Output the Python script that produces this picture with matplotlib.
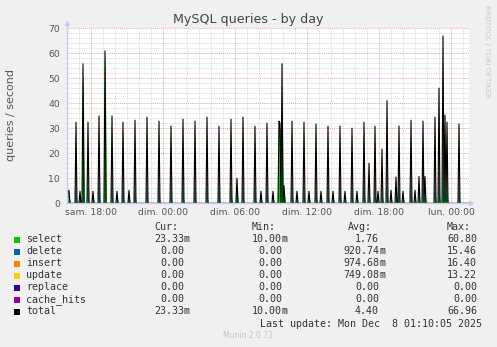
import numpy as np
import matplotlib
matplotlib.use("Agg")
import matplotlib.pyplot as plt
from matplotlib.patches import Rectangle

# ---------------- data ----------------
# time axis: hours relative to "sam. 18:00", 5-minute samples
t_start, t_end = -2.0, 31.5
xtick_hours = [0, 6, 12, 18, 24, 30]
xtick_labels = ["sam. 18:00", "dim. 00:00", "dim. 06:00", "dim. 12:00", "dim. 18:00", "lun. 00:00"]
ytick_values = [0, 10, 20, 30, 40, 50, 60, 70]

# spikes (hour offset) and stacked component values
spike_hours = [-1.92, -1.83, -1.25, -0.92, -0.67, -0.25, 0.17, 0.67, 1.17, 1.75,
               2.17, 2.67, 3.17, 3.67, 4.67, 5.67, 6.67, 7.67, 8.67, 9.67,
               10.67, 11.67, 12.17, 12.67, 13.67, 14.17, 14.67, 15.17, 15.67, 15.75,
               15.92, 16.08, 16.75, 17.17, 17.75, 18.17, 18.75, 19.17, 19.75, 20.17,
               20.75, 21.17, 21.75, 22.17, 22.75, 23.17, 23.67, 23.92, 24.25, 24.67,
               25.0, 25.42, 25.67, 26.0, 26.67, 27.0, 27.33, 27.67, 27.83, 28.67,
               29.0, 29.33, 29.5, 29.67, 30.67]
select_vals = [2.0, 2.2, 2.5, 2.0, 48.0, 2.5, 2.0, 2.5, 57.5, 2.5,
               2.0, 2.5, 2.2, 2.5, 2.5, 2.5, 2.5, 2.5, 2.5, 2.5,
               2.5, 2.5, 5.0, 2.5, 2.5, 2.0, 2.5, 2.0, 30.0, 30.0,
               33.0, 5.0, 2.5, 2.0, 2.5, 2.0, 2.5, 2.0, 2.5, 2.0,
               2.5, 2.0, 2.5, 2.0, 2.5, 3.0, 2.5, 2.0, 3.0, 3.0,
               2.2, 3.0, 2.5, 2.0, 2.5, 2.2, 3.0, 2.5, 3.0, 3.5,
               4.0, 21.8, 3.5, 3.0, 2.5]
delete_vals = [1.0, 1.0, 9.8, 1.0, 2.6, 9.8, 1.0, 10.6, 1.2, 10.6,
               1.0, 9.8, 1.0, 10.0, 10.5, 9.9, 9.3, 10.2, 9.9, 10.5,
               9.3, 10.2, 1.8, 10.5, 9.3, 1.0, 9.7, 1.0, 1.0, 0.7,
               7.6, 0.7, 9.9, 1.0, 9.8, 1.0, 9.6, 1.0, 9.3, 1.0,
               9.3, 1.0, 9.0, 1.0, 9.8, 4.3, 9.3, 1.0, 6.1, 12.5,
               1.0, 2.5, 9.3, 1.0, 10.0, 1.0, 2.5, 9.9, 2.5, 10.2,
               14.0, 15.4, 10.5, 9.7, 9.6]
insert_vals = [1.0, 1.2, 11.0, 1.0, 2.8, 11.0, 1.0, 12.0, 1.3, 12.0,
               1.0, 11.0, 1.2, 11.4, 11.8, 11.2, 10.5, 11.5, 11.2, 11.8,
               10.4, 11.5, 1.9, 11.8, 10.4, 1.0, 10.8, 1.0, 1.0, 0.7,
               8.4, 0.7, 11.2, 1.0, 11.0, 1.0, 10.8, 1.0, 10.4, 1.0,
               10.5, 1.0, 10.2, 1.0, 11.0, 4.8, 10.4, 1.0, 6.9, 14.2,
               1.2, 2.8, 10.5, 1.0, 11.4, 1.2, 2.9, 11.2, 2.9, 11.4,
               15.6, 16.4, 11.8, 10.9, 10.8]
update_vals = [0.8, 0.8, 9.1, 0.8, 2.3, 9.1, 0.8, 9.8, 0.9, 9.8,
               0.8, 9.1, 0.8, 9.3, 9.6, 9.2, 8.6, 9.4, 9.2, 9.6,
               8.6, 9.4, 1.3, 9.6, 8.6, 0.8, 9.0, 0.8, 0.8, 0.6,
               6.7, 0.6, 9.2, 0.8, 9.1, 0.8, 8.8, 0.8, 8.6, 0.8,
               8.6, 0.8, 8.3, 0.8, 9.1, 3.9, 8.6, 0.8, 5.6, 11.3,
               0.8, 2.2, 8.6, 0.8, 9.3, 0.8, 2.3, 9.2, 2.3, 9.3,
               12.4, 13.2, 9.5, 8.8, 8.8]

series_names = ["select", "delete", "insert", "update", "replace", "cache_hits", "total"]
series_colors = ["#00CC00", "#0066B3", "#FF8000", "#FFCC00", "#330099", "#990099", "#000000"]
cur_vals = ["23.33", "0.00", "0.00", "0.00", "0.00", "0.00", "23.33"]
cur_suf = ["m", "", "", "", "", "", "m"]
min_vals = ["10.00", "0.00", "0.00", "0.00", "0.00", "0.00", "10.00"]
min_suf = ["m", "", "", "", "", "", "m"]
avg_vals = ["1.76", "920.74", "974.68", "749.08", "0.00", "0.00", "4.40"]
avg_suf = ["", "m", "m", "m", "", "", ""]
max_vals = ["60.80", "15.46", "16.40", "13.22", "0.00", "0.00", "66.96"]

# ---------------- build sampled series ----------------
t = np.arange(0, int(round((t_end - t_start) * 12)) + 1) / 12.0 + t_start
n = len(t)
comp = {k: np.zeros(n) for k in ["select", "delete", "insert", "update"]}
for h, s, d, i, u in zip(spike_hours, select_vals, delete_vals, insert_vals, update_vals):
    k = int(round((h - t_start) * 12))
    comp["select"][k] = s
    comp["delete"][k] = d
    comp["insert"][k] = i
    comp["update"][k] = u

W, H = 497, 347
fig = plt.figure(figsize=(W / 100, H / 100), dpi=100, facecolor="#F0F0F0")

def fx(x):
    return x / W

def fy(y):
    return 1 - y / H

x0, x1, ytop, ybot = 67, 469, 28, 203.3
ax = fig.add_axes([fx(x0), fy(ybot), (x1 - x0) / W, (ybot - ytop) / H])
ax.set_facecolor("white")
ax.set_xlim(t_start, t_end)
ax.set_ylim(0, 70)

# grid
minor_col = "#D2D2D2"
major_col = "#E8A8A8"
for yv in np.arange(2, 70, 2):
    if yv % 10 != 0:
        ax.axhline(yv, color=minor_col, lw=0.6, ls=(0, (1, 1)), zorder=0.5)
for hv in np.arange(-1, 32, 1):
    if hv not in xtick_hours:
        ax.axvline(hv, color=minor_col, lw=0.6, ls=(0, (1, 1)), zorder=0.5)
for yv in ytick_values[1:]:
    ax.axhline(yv, color=major_col, lw=0.7, ls=(0, (1, 1)), zorder=0.6)
for hv in xtick_hours:
    ax.axvline(hv, color=major_col, lw=0.7, ls=(0, (1, 1)), zorder=0.6)

# stacked areas
base = np.zeros(n)
for name, col in zip(["select", "delete", "insert", "update"], series_colors[:4]):
    top = base + comp[name]
    if name == "select":
        ax.fill_between(t, base, top, facecolor=col, edgecolor=col, lw=0.5, zorder=2)
    else:
        ax.fill_between(t, base, top, facecolor=col, lw=0, zorder=2)
    base = top
total = base
ax.plot(t, total, color="black", lw=0.8, zorder=3)

# axes styling
for sp in ax.spines.values():
    sp.set_visible(False)
ax.set_xticks(xtick_hours)
ax.set_xticklabels(xtick_labels)
ax.set_yticks(ytick_values)
ax.set_yticklabels([str(v) for v in ytick_values])
ax.tick_params(axis="both", length=0, labelsize=6.7, labelcolor="#555555")
ax.tick_params(axis="y", pad=5)
ax.tick_params(axis="x", pad=3.5)

axis_col = "#C8C8F8"
ax.plot([t_start, t_end + 0.17], [0, 0], color=axis_col, lw=1.0, clip_on=False, zorder=4)
ax.plot([t_start, t_start], [0, 72.0], color=axis_col, lw=1.0, clip_on=False, zorder=4)
ax.plot([t_end + 0.17], [0], marker=">", color=axis_col, ms=3, clip_on=False, zorder=4)
ax.plot([t_start], [72.0], marker="^", color=axis_col, ms=3, clip_on=False, zorder=4)

# title & labels
fig.text(fx(248), fy(19.5), "MySQL queries - by day", ha="center", va="center",
         fontsize=9.1, color="#444444")
fig.text(fx(11), fy(115), "queries / second", rotation=90, ha="center", va="center",
         fontsize=8, color="#555555")
fig.text(fx(487), fy(5), "RRDTOOL / TOBI OETIKER", rotation=270, ha="center", va="top",
         fontsize=5.2, color="#C8C8C8")

# legend
mono = "DejaVu Sans Mono"
fs = 7.2
tc = "#333333"
for lbl, xl in zip(["Cur:", "Min:", "Avg:", "Max:"], [154, 252, 348, 447]):
    fig.text(fx(xl), fy(227.5), lbl, ha="left", va="center", family=mono, fontsize=fs, color=tc)
row_y = [239.5 + 12 * i for i in range(7)]
for i, (name, col) in enumerate(zip(series_names, series_colors)):
    y = row_y[i]
    fig.patches.append(Rectangle((fx(14), fy(y + 3)), 6 / W, 6 / H, transform=fig.transFigure,
                                 facecolor=col, edgecolor="none"))
    fig.text(fx(26), fy(y), name, ha="left", va="center", family=mono, fontsize=fs, color=tc)
    for vals, sufs, xe in [(cur_vals, cur_suf, 184), (min_vals, min_suf, 282),
                           (avg_vals, avg_suf, 379)]:
        fig.text(fx(xe), fy(y), vals[i], ha="right", va="center", family=mono, fontsize=fs, color=tc)
        if sufs[i]:
            fig.text(fx(xe), fy(y), sufs[i], ha="left", va="center", family=mono, fontsize=fs, color=tc)
    fig.text(fx(477), fy(y), max_vals[i], ha="right", va="center", family=mono, fontsize=fs, color=tc)

fig.text(fx(482), fy(323.7), "Last update: Mon Dec  8 01:10:05 2025", ha="right", va="center",
         family=mono, fontsize=fs, color=tc)
fig.text(fx(248), fy(336), "Munin 2.0.73", ha="center", va="center", fontsize=5.5, color="#C4C4C4")

fig.savefig("out.png", dpi=100, facecolor=fig.get_facecolor())
